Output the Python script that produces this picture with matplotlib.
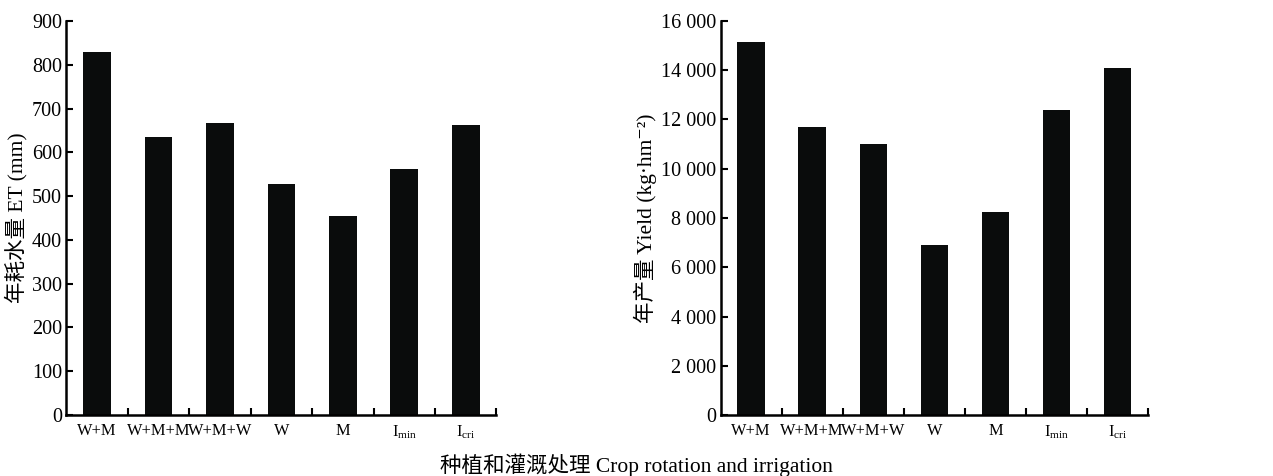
import numpy as np
import matplotlib
matplotlib.use("Agg")
import matplotlib.pyplot as plt
from matplotlib.ticker import FixedLocator, FuncFormatter

# -----------------------------
# フォント設定
# -----------------------------
plt.rcParams['font.family'] = ['Liberation Serif', 'Noto Sans CJK SC', 'DejaVu Serif']
plt.rcParams['mathtext.fontset'] = 'custom'
plt.rcParams['mathtext.rm'] = 'Liberation Serif'
plt.rcParams['mathtext.it'] = 'Liberation Serif:italic'
plt.rcParams['font.size'] = 14

# -----------------------------
# データ
# -----------------------------
categories = ["W+M", "W+M+M", "W+M+W", "W", "M", r"I$_{\mathrm{min}}$", r"I$_{\mathrm{cri}}$"]
et_mm = [830, 634, 666, 527, 455, 563, 662]
yield_kg = [15150, 11690, 11000, 6900, 8230, 12380, 14100]

et_ticks = list(range(0, 901, 100))
yield_ticks = list(range(0, 16001, 2000))

bar_color = "#0a0c0c"

fig = plt.figure(figsize=(12.73, 4.76), dpi=100)
ax1 = fig.add_axes([0.052, 0.128, 0.338, 0.828])
ax2 = fig.add_axes([0.566, 0.128, 0.336, 0.828])

x = np.arange(len(categories))


def style_axis(ax):
    ax.spines['top'].set_visible(False)
    ax.spines['right'].set_visible(False)
    ax.spines['left'].set_linewidth(1.8)
    ax.spines['bottom'].set_linewidth(1.8)
    ax.set_xlim(-0.5, len(categories) - 0.5)
    ax.set_xticks(x)
    ax.set_xticklabels(categories, fontsize=11.8)
    ax.xaxis.set_minor_locator(FixedLocator(np.arange(0.5, len(categories), 1.0)))
    ax.tick_params(axis='x', which='major', length=0, pad=6)
    ax.tick_params(axis='x', which='minor', direction='in', length=5, width=1.5)
    ax.tick_params(axis='y', direction='in', length=5, width=1.5, pad=3, labelsize=14.5)


# 左: 年耗水量
ax1.bar(x, et_mm, width=0.45, color=bar_color)
style_axis(ax1)
ax1.set_ylim(0, 900)
ax1.set_yticks(et_ticks)
ax1.set_ylabel("年耗水量 ET (mm)", labelpad=3, fontsize=15.5)

# 右: 年产量
ax2.bar(x, yield_kg, width=0.45, color=bar_color)
style_axis(ax2)
ax2.set_ylim(0, 16000)
ax2.set_yticks(yield_ticks)
ax2.yaxis.set_major_formatter(FuncFormatter(lambda v, p: f"{int(v):,}".replace(",", " ")))
ax2.set_ylabel("年产量 Yield (kg·hm\u207b\u00b2)", labelpad=3, fontsize=15.5)

fig.text(0.5, 0.022, "种植和灌溉处理 Crop rotation and irrigation", ha='center', va='center', fontsize=15.5)

fig.savefig("out.png", dpi=100)
